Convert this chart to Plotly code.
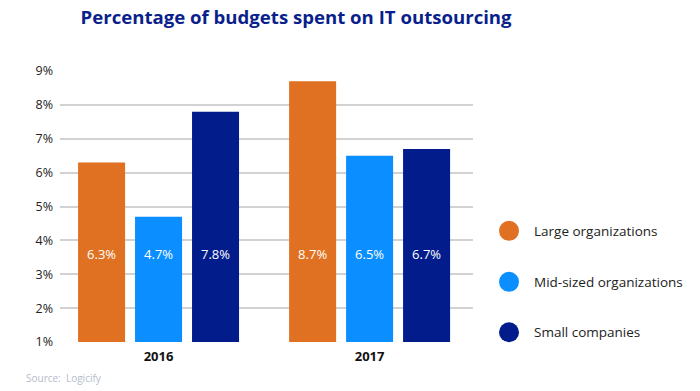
import plotly.graph_objects as go

years = ["2016", "2017"]
series_names = ["Large organizations", "Mid-sized organizations", "Small companies"]
large = [6.3, 8.7]
mid = [4.7, 6.5]
small = [7.8, 6.7]
series_values = [large, mid, small]
colors = ["#E07122", "#0B8EFF", "#021C8B"]
y_ticks = [1, 2, 3, 4, 5, 6, 7, 8, 9]
y_tick_labels = [f"{t}%" for t in y_ticks]

FONT = "Open Sans"
fig = go.Figure()

for name, vals, col in zip(series_names, series_values, colors):
    fig.add_trace(go.Bar(
        x=years, y=vals, name=name, marker=dict(color=col, line=dict(width=0)),
        offsetgroup=name, showlegend=False, hoverinfo="skip",
    ))

LABEL_Y = 3.56
for name, vals, col in zip(series_names, series_values, colors):
    fig.add_trace(go.Scatter(
        x=years, y=[LABEL_Y] * len(vals), mode="text",
        text=[f"{v:.1f}%" for v in vals], offsetgroup=name,
        textfont=dict(family=FONT, size=13, color="white"),
        showlegend=False, hoverinfo="skip",
    ))

# Custom legend (round swatches) built from the series lists
LEG_X = 1.0872
LEG_TEXT_X = 1.1429
LEG_Y = [0.4103, 0.2221, 0.0358]
shapes = []
annotations = []
for name, col, ly in zip(series_names, colors, LEG_Y):
    shapes.append(dict(
        type="circle", xref="paper", yref="paper",
        xsizemode="pixel", ysizemode="pixel",
        xanchor=LEG_X, yanchor=ly, x0=-10, x1=10, y0=-10, y1=10,
        fillcolor=col, line=dict(width=0),
    ))
    annotations.append(dict(
        text=name, xref="paper", yref="paper", x=LEG_TEXT_X, y=ly,
        xanchor="left", yanchor="middle", showarrow=False,
        font=dict(family=FONT, size=13.5, color="#222222"),
    ))

annotations.append(dict(
    text="Source:  Logicify", xref="paper", yref="paper",
    x=-0.087, y=-0.134, xanchor="left", yanchor="middle", showarrow=False,
    font=dict(family=FONT, size=10, color="#B4BCCB"),
))

fig.update_layout(
    width=700, height=391,
    margin=dict(l=60, r=227, t=71, b=49),
    plot_bgcolor="white", paper_bgcolor="white",
    barmode="group", bargap=0.19, bargroupgap=0.175,
    scattermode="group", scattergap=0.19,
    showlegend=False,
    title=dict(
        text="Percentage of budgets spent on IT outsourcing",
        font=dict(family=FONT, size=18.6, color="#0A1F8C", weight="bold"),
        x=0.423, xanchor="center", xref="container",
        y=0.955, yanchor="middle", yref="container",
    ),
    xaxis=dict(
        type="category", range=[-0.467, 1.49], showgrid=False,
        tickfont=dict(family=FONT, size=13, color="#111111", weight="bold"),
        showline=False, ticks="", ticklabelstandoff=5,
    ),
    yaxis=dict(
        range=[1, 9], tickvals=y_ticks, ticktext=y_tick_labels,
        showgrid=True, gridcolor="#D2D2D2", gridwidth=1.5,
        zeroline=False, showline=False, ticks="",
        tickfont=dict(family=FONT, size=12.5, color="#222222"),
        ticklabelstandoff=6,
    ),
    shapes=shapes,
    annotations=annotations,
)

fig.write_html(
    "out.html",
    config={"displayModeBar": False},
    post_script="document.body.style.margin='0';document.body.style.overflow='hidden';",
)
